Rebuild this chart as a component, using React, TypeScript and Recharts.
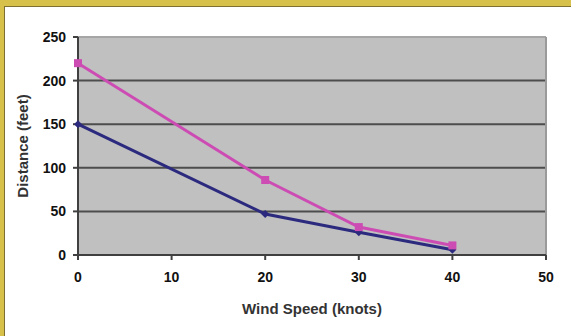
import {
  LineChart,
  Line,
  XAxis,
  YAxis,
  CartesianGrid,
  ReferenceLine,
} from "recharts";

const windSpeeds = [0, 20, 30, 40];
const distanceHigh = [220, 86, 32, 11];
const distanceLow = [150, 47, 26, 6];
const xTicks = [0, 10, 20, 30, 40, 50];
const yTicks = [0, 50, 100, 150, 200, 250];
const gridValues = [50, 100, 150, 200];

const chartData = windSpeeds.map((w, i) => ({
  wind: w,
  high: distanceHigh[i],
  low: distanceLow[i],
}));

const FONT = '"Liberation Sans", Arial, sans-serif';

function SquareDot(props: any) {
  const { cx, cy } = props;
  if (cx == null || cy == null) return null;
  return <rect x={cx - 4} y={cy - 4} width={8} height={8} fill="#cc4cb4" />;
}

function DiamondDot(props: any) {
  const { cx, cy } = props;
  if (cx == null || cy == null) return null;
  return (
    <path
      d={`M${cx},${cy - 4} L${cx + 4},${cy} L${cx},${cy + 4} L${cx - 4},${cy} Z`}
      fill="#2b2a7e"
    />
  );
}

function YTitle(props: any) {
  const vb = props.viewBox || { x: 0, y: 0, width: 0, height: 0 };
  const x = vb.x + 22;
  const y = vb.y + vb.height / 2;
  return (
    <text
      x={x}
      y={y}
      transform={`rotate(-90 ${x} ${y})`}
      textAnchor="middle"
      dominantBaseline="central"
      style={{ fontSize: 15, fontWeight: 700, fill: "#333", fontFamily: FONT }}
    >
      Distance (feet)
    </text>
  );
}

export default function App() {
  return (
    <div style={styles.frame}>
      <div style={styles.paper} />
      <div style={styles.chart}>
        <LineChart
          width={571}
          height={336}
          data={chartData}
          margin={{ top: 37, right: 25, left: 0, bottom: 18 }}
        >
          <CartesianGrid
            vertical={false}
            fill="#c0c0c0"
            stroke="#4d4d4d"
            strokeWidth={2}
            horizontalValues={gridValues}
          />
          <ReferenceLine y={250} stroke="#a6a6a6" strokeWidth={2} />
          <ReferenceLine x={50} stroke="#9a9a9a" strokeWidth={2} />
          <XAxis
            dataKey="wind"
            type="number"
            domain={[0, 50]}
            ticks={xTicks}
            stroke="#404040"
            strokeWidth={2}
            tickSize={5}
            tickMargin={12}
            height={63}
            tick={{ fontSize: 14, fontWeight: 700, fill: "#111", fontFamily: FONT }}
            label={{
              value: "Wind Speed (knots)",
              position: "insideBottom",
              offset: 4,
              style: { fontSize: 15, fontWeight: 700, fill: "#333", fontFamily: FONT },
            }}
          />
          <YAxis
            type="number"
            domain={[0, 250]}
            ticks={yTicks}
            width={78}
            stroke="#404040"
            strokeWidth={2}
            tickSize={5}
            tickMargin={7}
            tick={{ fontSize: 14, fontWeight: 700, fill: "#111", fontFamily: FONT }}
            label={{ content: YTitle }}
          />
          <Line
            dataKey="low"
            stroke="#2b2a7e"
            strokeWidth={3}
            dot={<DiamondDot />}
            activeDot={false}
            isAnimationActive={false}
          />
          <Line
            dataKey="high"
            stroke="#cc4cb4"
            strokeWidth={3}
            dot={<SquareDot />}
            activeDot={false}
            isAnimationActive={false}
          />
        </LineChart>
      </div>
    </div>
  );
}

const styles: Record<string, React.CSSProperties> = {
  frame: {
    position: "fixed",
    left: 0,
    top: 0,
    width: 571,
    height: 336,
    overflow: "hidden",
    background: "#d8c14b",
  },
  paper: {
    position: "absolute",
    left: 4,
    top: 6,
    right: 0,
    bottom: 0,
    background: "#ffffff",
    borderTop: "1px solid #7d7030",
    borderLeft: "1px solid #7d7030",
  },
  chart: {
    position: "absolute",
    left: 0,
    top: 0,
  },
};
